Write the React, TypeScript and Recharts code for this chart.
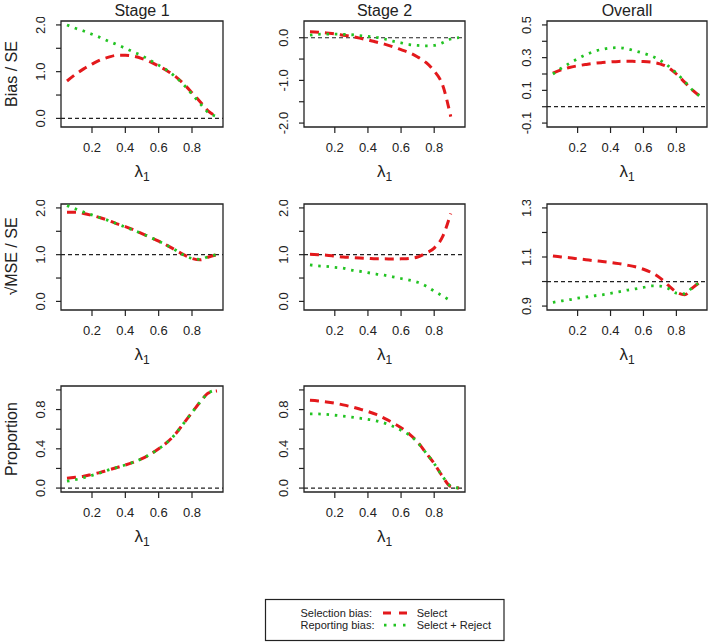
import React from 'react';
import { LineChart, Line, XAxis, YAxis, ReferenceLine, ReferenceArea } from 'recharts';

// lambda_1 grid
const LAMBDA = [0.05, 0.1, 0.15, 0.2, 0.25, 0.3, 0.35, 0.4, 0.45, 0.5, 0.55, 0.6, 0.65, 0.7, 0.75, 0.8, 0.85, 0.9, 0.95];
const X_TICKS = [0.2, 0.4, 0.6, 0.8];

// Bias / SE
const biasS1Select = [0.8, 0.94, 1.06, 1.16, 1.25, 1.31, 1.35, 1.35, 1.33, 1.28, 1.21, 1.12, 1.02, 0.9, 0.74, 0.55, 0.35, 0.15, 0.04];
const biasS1Reject = [2.0, 1.93, 1.87, 1.8, 1.73, 1.65, 1.58, 1.5, 1.42, 1.34, 1.24, 1.14, 1.03, 0.89, 0.72, 0.52, 0.31, 0.12, 0.04];
const biasS2Select = [0.14, 0.13, 0.11, 0.09, 0.06, 0.03, -0.01, -0.05, -0.1, -0.15, -0.21, -0.28, -0.35, -0.45, -0.58, -0.78, -1.1, -1.85, null];
const biasS2Reject = [0.06, 0.08, 0.085, 0.085, 0.08, 0.07, 0.05, 0.03, 0.01, -0.03, -0.08, -0.12, -0.16, -0.18, -0.19, -0.18, -0.12, -0.03, 0.0];
const biasAllSelect = [0.205, 0.225, 0.24, 0.25, 0.258, 0.265, 0.27, 0.274, 0.277, 0.278, 0.277, 0.276, 0.272, 0.262, 0.24, 0.2, 0.15, 0.1, 0.06];
const biasAllReject = [0.2, 0.235, 0.265, 0.293, 0.318, 0.338, 0.351, 0.359, 0.361, 0.354, 0.341, 0.327, 0.31, 0.285, 0.25, 0.205, 0.155, 0.1, 0.06];

// sqrt(MSE) / SE
const mseS1Select = [1.91, 1.91, 1.88, 1.84, 1.79, 1.73, 1.66, 1.6, 1.53, 1.45, 1.37, 1.29, 1.2, 1.1, 1.0, 0.92, 0.89, 0.95, 1.0];
const mseS1Reject = [2.05, 1.98, 1.91, 1.85, 1.79, 1.73, 1.66, 1.59, 1.52, 1.45, 1.37, 1.29, 1.2, 1.1, 0.99, 0.92, 0.9, 0.96, 1.0];
const mseS2Select = [1.01, 1.0, 0.99, 0.97, 0.95, 0.94, 0.93, 0.92, 0.91, 0.91, 0.905, 0.91, 0.92, 0.95, 1.03, 1.14, 1.38, 1.88, null];
const mseS2Reject = [0.78, 0.76, 0.75, 0.73, 0.71, 0.67, 0.645, 0.615, 0.585, 0.56, 0.525, 0.49, 0.455, 0.41, 0.33, 0.22, 0.12, 0.01, null];
const mseAllSelect = [1.104, 1.1, 1.097, 1.093, 1.089, 1.085, 1.082, 1.078, 1.073, 1.067, 1.06, 1.05, 1.036, 1.015, 0.985, 0.957, 0.946, 0.975, 1.0];
const mseAllReject = [0.915, 0.921, 0.926, 0.932, 0.937, 0.942, 0.946, 0.952, 0.958, 0.965, 0.97, 0.976, 0.982, 0.981, 0.972, 0.953, 0.95, 0.978, 1.0];

// Proportion
const propS1Select = [0.1, 0.11, 0.12, 0.14, 0.16, 0.185, 0.21, 0.235, 0.265, 0.3, 0.345, 0.4, 0.465, 0.55, 0.66, 0.77, 0.88, 0.97, 0.99];
const propS1Reject = [0.07, 0.085, 0.105, 0.13, 0.155, 0.185, 0.21, 0.235, 0.265, 0.3, 0.345, 0.4, 0.465, 0.55, 0.66, 0.77, 0.88, 0.97, 1.0];
const propS2Select = [0.895, 0.888, 0.878, 0.865, 0.848, 0.828, 0.805, 0.78, 0.75, 0.71, 0.665, 0.615, 0.55, 0.47, 0.36, 0.25, 0.12, 0.015, 0.0];
const propS2Reject = [0.756, 0.755, 0.75, 0.742, 0.734, 0.724, 0.712, 0.7, 0.685, 0.662, 0.63, 0.59, 0.54, 0.465, 0.36, 0.25, 0.12, 0.02, 0.0];

// y ticks and which of them carry a label
const Y_TICKS_02 = [0, 0.5, 1, 1.5, 2];
const Y_LABELS_02 = [0, 1, 2];
const Y_TICKS_BIAS2 = [-2, -1.5, -1, -0.5, 0];
const Y_LABELS_BIAS2 = [-2, -1, 0];
const Y_TICKS_BIAS3 = [-0.1, 0, 0.1, 0.2, 0.3, 0.4, 0.5];
const Y_LABELS_BIAS3 = [-0.1, 0.1, 0.3, 0.5];
const Y_TICKS_MSE3 = [0.9, 1.0, 1.1, 1.2, 1.3];
const Y_LABELS_MSE3 = [0.9, 1.1, 1.3];
const Y_TICKS_PROP = [0, 0.2, 0.4, 0.6, 0.8, 1.0];
const Y_LABELS_PROP = [0, 0.4, 0.8];

const TITLES = ['Stage 1', 'Stage 2', 'Overall'];
const ROW_LABELS = ['Bias / SE', '\u221AMSE / SE', 'Proportion'];

const RED = '#e3191c';
const GREEN = '#22c322';
const INK = '#222';
const FONT = '"Liberation Sans", Arial, Helvetica, sans-serif';

const X_DOMAIN: [number, number] = [0.014, 0.986];
const COL_LEFT = [61, 304, 547];
const COL_W = [162, 161, 160];
const ROW_TOP = [21, 203.5, 386];
const BOX_H = 106;
const YW = 30;
const MT = 4;
const XH = 40;

type Panel = {
  row: number;
  col: number;
  select: (number | null)[];
  reject: (number | null)[];
  yDomain: [number, number];
  yTicks: number[];
  yLabels: number[];
  ref: number;
};

const panels: Panel[] = [
  { row: 0, col: 0, select: biasS1Select, reject: biasS1Reject, yDomain: [-0.184, 2.084], yTicks: Y_TICKS_02, yLabels: Y_LABELS_02, ref: 0 },
  { row: 0, col: 1, select: biasS2Select, reject: biasS2Reject, yDomain: [-2.092, 0.392], yTicks: Y_TICKS_BIAS2, yLabels: Y_LABELS_BIAS2, ref: 0 },
  { row: 0, col: 2, select: biasAllSelect, reject: biasAllReject, yDomain: [-0.124, 0.524], yTicks: Y_TICKS_BIAS3, yLabels: Y_LABELS_BIAS3, ref: 0 },
  { row: 1, col: 0, select: mseS1Select, reject: mseS1Reject, yDomain: [-0.184, 2.084], yTicks: Y_TICKS_02, yLabels: Y_LABELS_02, ref: 1 },
  { row: 1, col: 1, select: mseS2Select, reject: mseS2Reject, yDomain: [-0.184, 2.084], yTicks: Y_TICKS_02, yLabels: Y_LABELS_02, ref: 1 },
  { row: 1, col: 2, select: mseAllSelect, reject: mseAllReject, yDomain: [0.884, 1.316], yTicks: Y_TICKS_MSE3, yLabels: Y_LABELS_MSE3, ref: 1 },
  { row: 2, col: 0, select: propS1Select, reject: propS1Reject, yDomain: [-0.04, 1.04], yTicks: Y_TICKS_PROP, yLabels: Y_LABELS_PROP, ref: 0 },
  { row: 2, col: 1, select: propS2Select, reject: propS2Reject, yDomain: [-0.04, 1.04], yTicks: Y_TICKS_PROP, yLabels: Y_LABELS_PROP, ref: 0 },
];

function RotTick(props: any) {
  const { x, y, payload, labels } = props;
  const v = Number(payload?.value);
  if (!labels.some((l: number) => Math.abs(l - v) < 1e-9)) return <g />;
  return (
    <text
      x={x}
      y={y}
      transform={`rotate(-90 ${x} ${y})`}
      textAnchor="middle"
      fontSize={13}
      fill={INK}
      fontFamily={FONT}
    >
      {v.toFixed(1)}
    </text>
  );
}

function PanelChart({ p }: { p: Panel }) {
  const data = LAMBDA.map((x, i) => ({ x, select: p.select[i], reject: p.reject[i] }));
  const boxW = COL_W[p.col];
  const left = COL_LEFT[p.col] - YW;
  const top = ROW_TOP[p.row] - MT;
  return (
    <div style={{ position: 'absolute', left, top }}>
      <LineChart
        width={YW + boxW + 4}
        height={MT + BOX_H + XH}
        data={data}
        margin={{ top: MT, right: 4, bottom: 0, left: 0 }}
      >
        <XAxis
          type="number"
          dataKey="x"
          domain={X_DOMAIN}
          ticks={X_TICKS}
          interval={0}
          allowDataOverflow
          height={XH}
          axisLine={false}
          tickLine={{ stroke: INK, strokeWidth: 1.2 }}
          tickSize={6}
          tickMargin={10}
          tickFormatter={(v: number) => v.toFixed(1)}
          tick={{ fontSize: 13, fill: INK, fontFamily: FONT }}
        />
        <YAxis
          type="number"
          domain={p.yDomain}
          ticks={p.yTicks}
          interval={0}
          allowDataOverflow
          width={YW}
          axisLine={false}
          tickLine={{ stroke: INK, strokeWidth: 1.2 }}
          tickSize={5}
          tickMargin={11}
          tick={(tp: any) => <RotTick {...tp} labels={p.yLabels} />}
        />
        <ReferenceLine y={p.ref} stroke={INK} strokeWidth={1.2} strokeDasharray="4 3" />
        <Line
          type="monotone"
          dataKey="select"
          stroke={RED}
          strokeWidth={3}
          strokeDasharray="9 6"
          dot={false}
          activeDot={false}
          isAnimationActive={false}
        />
        <Line
          type="monotone"
          dataKey="reject"
          stroke={GREEN}
          strokeWidth={2.8}
          strokeDasharray="2.5 5.8"
          dot={false}
          activeDot={false}
          isAnimationActive={false}
        />
        <ReferenceArea
          x1={X_DOMAIN[0]}
          x2={X_DOMAIN[1]}
          y1={p.yDomain[0]}
          y2={p.yDomain[1]}
          fill="none"
          fillOpacity={0}
          stroke={INK}
          strokeWidth={1.3}
        />
      </LineChart>
    </div>
  );
}

export default function App() {
  return (
    <div style={{ position: 'absolute', left: 0, top: 0, width: 709, height: 642, background: '#fff', fontFamily: FONT, overflow: 'hidden' }}>
      {panels.map((p, i) => (
        <PanelChart key={i} p={p} />
      ))}
      <svg width={709} height={642} style={{ position: 'absolute', left: 0, top: 0, pointerEvents: 'none' }} fontFamily={FONT}>
        {TITLES.map((t, c) => (
          <text key={t} x={COL_LEFT[c] + COL_W[c] / 2} y={15.5} textAnchor="middle" fontSize={16} fill={INK}>
            {t}
          </text>
        ))}
        {ROW_LABELS.map((t, r) => (
          <text
            key={t}
            transform={`translate(16.5 ${ROW_TOP[r] + BOX_H / 2}) rotate(-90)`}
            textAnchor="middle"
            fontSize={16}
            fill={INK}
          >
            {t}
          </text>
        ))}
        {panels.map((p, i) => (
          <text
            key={'lam' + i}
            x={COL_LEFT[p.col] + COL_W[p.col] / 2}
            y={ROW_TOP[p.row] + BOX_H + 50}
            textAnchor="middle"
            fontSize={17}
            fill={INK}
          >
            λ<tspan fontSize={12} dy={4}>1</tspan>
          </text>
        ))}
        <rect x={265.5} y={599.5} width={238.5} height={41} fill="#fff" stroke={INK} strokeWidth={1.2} />
        <text x={300.5} y={616.8} fontSize={11} fill={INK}>Selection bias:</text>
        <text x={300.5} y={629} fontSize={11} fill={INK}>Reporting bias:</text>
        <line x1={383} y1={613} x2={407} y2={613} stroke={RED} strokeWidth={3} strokeDasharray="8 8" />
        <line x1={384} y1={625.2} x2={407} y2={625.2} stroke={GREEN} strokeWidth={2.8} strokeDasharray="2.5 7" />
        <text x={416.7} y={616.8} fontSize={11} fill={INK}>Select</text>
        <text x={416.7} y={629} fontSize={11} fill={INK}>Select + Reject</text>
      </svg>
    </div>
  );
}
